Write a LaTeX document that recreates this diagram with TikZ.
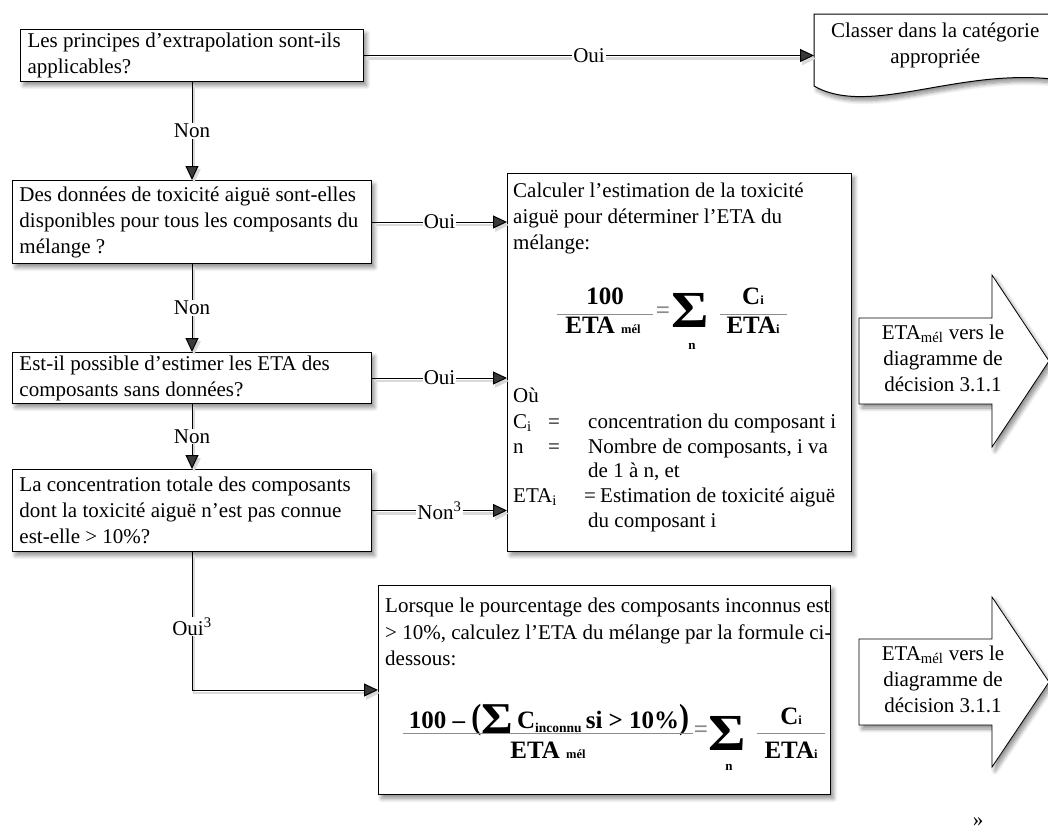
\documentclass[tikz,border=0pt]{standalone}
\usepackage{fontspec}
\setmainfont{Liberation Serif}
\usetikzlibrary{arrows.meta,shadows.blur,calc}

% text and formula sizes
\newcommand{\txtsize}{\fontsize{21}{26}\selectfont}
\newcommand{\eqsize}{\fontsize{25}{30}\selectfont}
\newcommand{\sml}[1]{{\fontsize{12.5}{14}\selectfont #1}}
% summation sign of a given size
\newcommand{\sumsign}[1]{{\bfseries\fontsize{#1}{#1}\selectfont\scalebox{1.1}[1]{Σ}}}

\begin{document}
\begin{tikzpicture}[x=1pt,y=-1pt,
  shadowed/.style={blur shadow={shadow xshift=3pt,shadow yshift=-4pt,shadow blur radius=4pt,shadow blur steps=8,shadow opacity=45}},
  qbox/.style={draw,line width=1pt,fill=white,shadowed,font=\txtsize,align=flush left,
    inner xsep=7pt,inner ysep=0pt,anchor=north west},
  frame/.style={draw,line width=1pt,fill=white,shadowed,anchor=north west,inner sep=0pt},
  conn/.style={line width=1pt,-{Triangle[length=14pt,width=13pt]},
    preaction={draw=black!15,line width=2.5pt,transform canvas={xshift=2pt,yshift=-3pt}}},
  lbl/.style={fill=white,inner sep=1pt,font=\txtsize},
  txt/.style={anchor=base west,inner sep=0pt,font=\txtsize},
  eq/.style={inner sep=0pt,font=\eqsize\bfseries},
  bar/.style={draw=black!45,line width=0.8pt},
  bigarrow/.style={draw,line width=0.8pt,fill=white,shadowed},
]
\useasboundingbox (0,0) rectangle (1048,838);

% ---- questions ----
\node[qbox,text width=329pt,minimum height=52pt] (b1) at (20,29)
  {\mbox{Les principes d’extrapolation sont-ils}\\\mbox{applicables?}};
\node[qbox,text width=345pt,minimum height=83pt] (b2) at (12,180)
  {\mbox{Des données de toxicité aiguë sont-elles}\\\mbox{disponibles pour tous les composants du}\\\mbox{mélange ?}};
\node[qbox,text width=345pt,minimum height=51pt] (b3) at (12,352)
  {\mbox{Est-il possible d’estimer les ETA des}\\\mbox{composants sans données?}};
\node[qbox,text width=345pt,minimum height=82pt] (b4) at (12,469)
  {\mbox{La concentration totale des composants}\\\mbox{dont la toxicité aiguë n’est pas connue}\\\mbox{est-elle > 10\%?}};

% ---- document shape ----
\path[draw,line width=1pt,fill=white,shadowed]
  (814,14) -- (1060,14) -- (1060,80) .. controls (960,66) and (870,118) .. (814,86) -- cycle;
\node[minimum width=242pt,minimum height=62pt,anchor=north west,inner sep=0pt,
  font=\txtsize,align=center] (doc) at (814,14) {Classer dans la catégorie\\appropriée};

% ---- result boxes ----
\node[frame,minimum width=344pt,minimum height=378pt] (calc) at (507,173) {};
\node[frame,minimum width=452pt,minimum height=209pt] (low) at (378,585) {};

% ---- big arrows ----
\path[bigarrow] (859,318) -- (992,318) -- (992,275) -- (1049,361) -- (992,447)
  -- (992,404) -- (859,404) -- cycle;
\node[font=\txtsize,align=center,inner sep=0pt] (eta1) at (943,358)
  {ETA\textsubscript{mél} vers le\\diagramme de\\décision 3.1.1};
\path[bigarrow] (859,639) -- (992,639) -- (992,597) -- (1049,682) -- (992,767)
  -- (992,725) -- (859,725) -- cycle;
\node[font=\txtsize,align=center,inner sep=0pt] (eta2) at (943,679)
  {ETA\textsubscript{mél} vers le\\diagramme de\\décision 3.1.1};

% ---- connectors ----
\draw[conn] (b1.east) -- (b1.east -| doc.west) node[lbl,midway] {Oui};
\draw[conn] (b1.south) -- (b2.north) node[lbl,midway] {Non};
\draw[conn] (b2.east) -- (b2.east -| calc.west) node[lbl,midway] {Oui};
\draw[conn] (b2.south) -- (b3.north) node[lbl,midway] {Non};
\draw[conn] (b3.east) -- (b3.east -| calc.west) node[lbl,midway] {Oui};
\draw[conn] (b3.south) -- (b4.north) node[lbl,midway] {Non};
\draw[conn] (b4.east) -- (b4.east -| calc.west) node[lbl,midway] {Non\textsuperscript{3}};
\draw[conn] (b4.south) |- (low.west) node[lbl,pos=0.27] {Oui\textsuperscript{3}};

% ---- text of the calculation box ----
\node[txt] at (513,197) {Calculer l’estimation de la toxicité};
\node[txt] at (513,223) {aiguë pour déterminer l’ETA du};
\node[txt] at (513,249) {mélange:};
\node[eq] at (605,296) {100};
\draw[bar] (557,314) -- (653,314);
\node[eq,anchor=base] at (603,333) {ETA \sml{mél}};
\node[eq,text=black!45] at (663,313) {=};
\node[inner sep=0pt] at (690,310) {\sumsign{52}};
\node[eq,font=\bfseries\fontsize{13}{15}\selectfont] at (692,346) {n};
\node[eq,anchor=base] at (753,304) {C\sml{i}};
\draw[bar] (720,314) -- (787,314);
\node[eq,anchor=base] at (753,333) {ETA\sml{i}};
\node[txt] at (513,402) {Où};
\node[txt] at (513,428) {C\textsubscript{i}};
\node[txt] at (548,428) {=};
\node[txt] at (588,428) {concentration du composant i};
\node[txt] at (513,453) {n};
\node[txt] at (548,453) {=};
\node[txt] at (588,453) {Nombre de composants, i va};
\node[txt] at (588,477) {de 1 à n, et};
\node[txt] at (513,502) {ETA\textsubscript{i}};
\node[txt] at (584,502) {=};
\node[txt] at (600,502) {Estimation de toxicité aiguë};
\node[txt] at (588,527) {du composant i};

% ---- text of the lower box ----
\node[txt] at (385,612) {Lorsque le pourcentage des composants inconnus est};
\node[txt] at (385,639) {> 10\%, calculez l’ETA du mélange par la formule ci-};
\node[txt] at (385,665) {dessous:};
\node[eq,anchor=base] at (549,728)
  {100 – \scalebox{1.2}[1.4]{(}\raisebox{-5pt}{\sumsign{44}}\,C\raisebox{-4pt}{{\fontsize{13.5}{15}\selectfont inconnu}}\,si > 10\%\scalebox{1.2}[1.4]{)}};
\draw[bar] (403,733) -- (693,733);
\node[eq,anchor=base] at (548,758) {ETA \sml{mél}};
\node[eq,text=black!45] at (701,732) {=};
\node[inner sep=0pt] at (727,733) {\sumsign{52}};
\node[eq,font=\bfseries\fontsize{13}{15}\selectfont] at (729,767) {n};
\node[eq,anchor=base] at (791,724) {C\sml{i}};
\draw[bar] (757,733) -- (825,733);
\node[eq,anchor=base] at (791,758) {ETA\sml{i}};

\node[font=\txtsize] at (978,822) {»};
\end{tikzpicture}
\end{document}
